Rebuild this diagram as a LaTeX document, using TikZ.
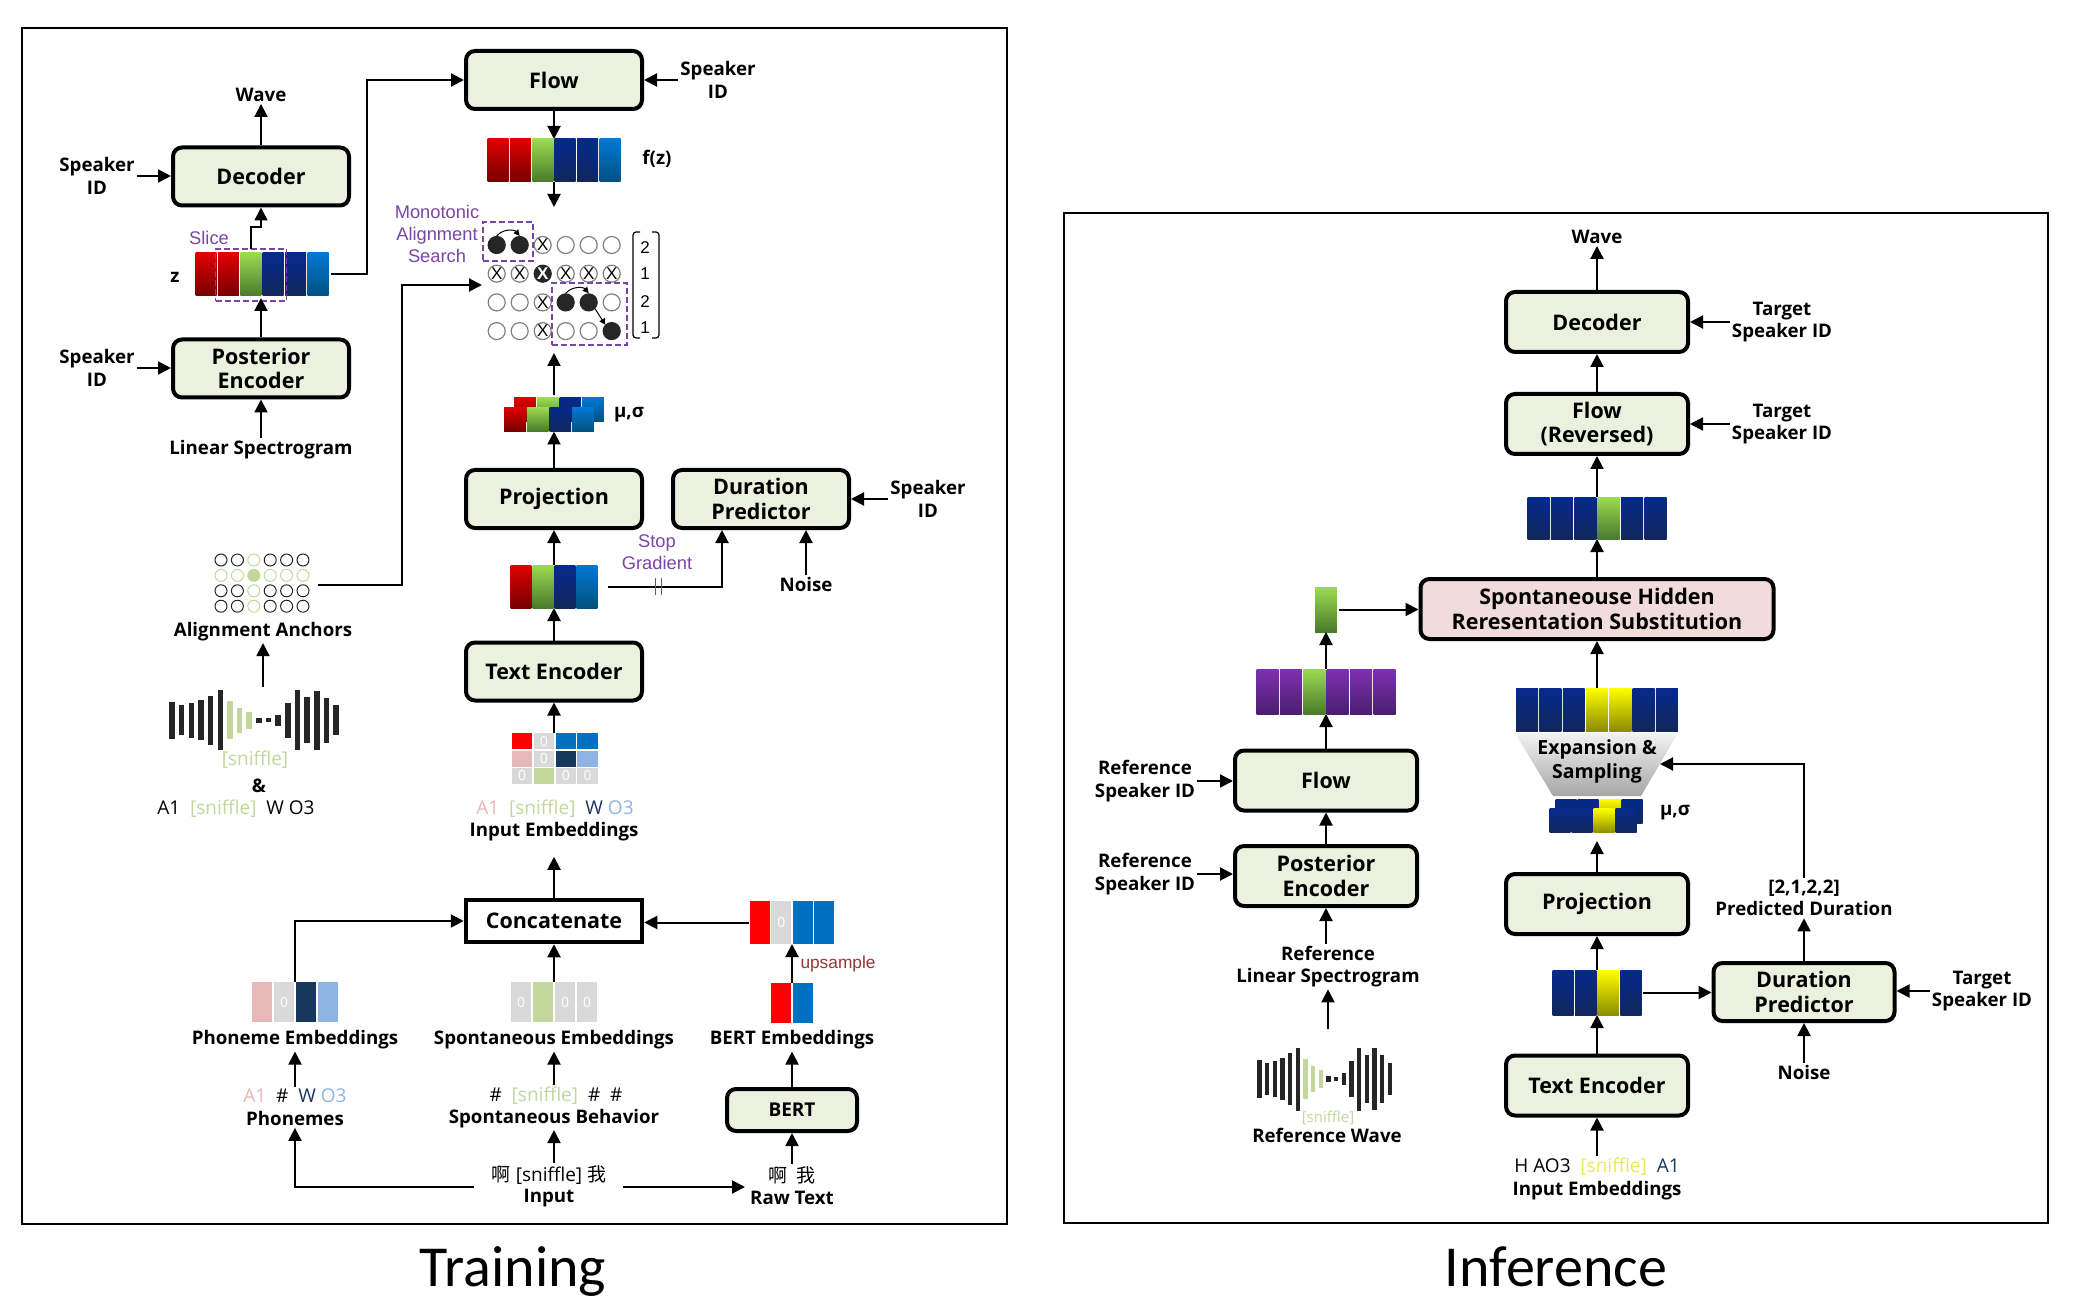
\documentclass[tikz,border=0pt]{standalone}
\usepackage{fontspec}
\setmainfont{Open Sans}
\newfontfamily\lblfont{Liberation Sans}
\newfontfamily\titlefont{Carlito}
\newfontfamily\cjk{Noto Sans CJK SC}
\usetikzlibrary{arrows.meta,positioning}
\definecolor{rdT}{HTML}{E00000}\definecolor{rdB}{HTML}{760000}
\definecolor{gnT}{HTML}{9BDB50}\definecolor{gnB}{HTML}{4A7A2C}
\definecolor{nvT}{HTML}{062A8C}\definecolor{nvB}{HTML}{12275C}
\definecolor{blT}{HTML}{0078D4}\definecolor{blB}{HTML}{03507F}
\definecolor{puT}{HTML}{7F30B0}\definecolor{puB}{HTML}{4A1E70}
\definecolor{ylT}{HTML}{FFFF00}\definecolor{ylB}{HTML}{8C8C00}
\definecolor{fred}{HTML}{FF0000}
\definecolor{fgray}{HTML}{D9D9D9}
\definecolor{fblue}{HTML}{0070C0}
\definecolor{fpink}{HTML}{E6B8B7}
\definecolor{fnavy}{HTML}{17375E}
\definecolor{fsky}{HTML}{8DB4E2}
\definecolor{snf}{HTML}{C3D69B}
\definecolor{sny}{HTML}{E8E85A}
\definecolor{boxc}{HTML}{EBF1DE}
\definecolor{subc}{HTML}{F2DCDB}
\definecolor{purp}{HTML}{7B45A8}
\definecolor{upc}{HTML}{953735}
\definecolor{ink}{HTML}{262626}
% gradient bars: [pitch]{name}{x}{y}{n}{height}{colours}
\newcommand{\barstrip}[7][22.4]{
  \node[strip, minimum width={#5*#1}, minimum height=#6] (#2) at (#3,#4) {};
  \foreach \c [count=\i] in {#7}
    \node[bar, top color=\c T, bottom color=\c B, minimum width=#1-1.4, minimum height=#6,
      xshift={(\i-0.5)*#1}] (#2\i) at (#2.west) {};
}
% flat bars with a digit: [pitch]{name}{x}{y}{n}{height}{colour/text}
\newcommand{\flatstrip}[7][22]{
  \node[strip, minimum width={#5*#1}, minimum height=#6] (#2) at (#3,#4) {};
  \foreach \c/\t [count=\i] in {#7}
    \node[flatbar, fill=\c, minimum width=#1-1.4, minimum height=#6,
      xshift={(\i-0.5)*#1}] (#2\i) at (#2.west) {\t};
}
% staggered double row: {name}{x}{y}{x offset}{pitch}{colours}
\newcommand{\muband}[6]{
  \node[strip, minimum width=96, minimum height=34] (#1) at (#2,#3) {};
  \foreach \c [count=\i] in {#6} {
    \node[bar, top color=\c T, bottom color=\c B, minimum width=#5-1, minimum height=24,
      xshift={(\i-2.5)*#5+#4}, yshift=4.8] at (#1) {};
    \node[bar, top color=\c T, bottom color=\c B, minimum width=#5-1, minimum height=24,
      xshift={(\i-2.5)*#5-#4}, yshift=-4.8] at (#1) {};
  }
}
% sound wave: {name}{x of first bar}{y}{pitch}{bar width}{scale}
\newcommand{\soundbars}[6]{
  \node[strip, minimum width={17*#4+#5}, minimum height=60*#6, anchor=west] (#1) at (#2-#5/2,#3) {};
  \foreach \h/\c [count=\i] in {37/ink,30/ink,35/ink,40/ink,49/ink,60/ink,38/snf,25/snf,17/snf,
      5/ink,3.5/ink,11/ink,35/ink,60/ink,46/ink,59/ink,45/ink,30/ink}
    \fill[\c] ({#2+(\i-1)*#4-#5/2},{#3-#6*\h/2}) rectangle ++(#5,#6*\h);
}
\begin{document}
\begin{tikzpicture}[
  x=1pt, y=-1pt,
  stage/.style={draw, line width=4, rounded corners=9, fill=boxc, minimum width=176, minimum height=58,
    align=center, inner sep=0, font=\fontsize{21.5}{24.5}\selectfont\bfseries},
  istage/.style={stage, minimum width=182, minimum height=60},
  plain/.style={stage, fill=white, rounded corners=0, line width=4.5},
  arr/.style={-{Triangle[length=13,width=13]}, line width=2},
  tinyarr/.style={-{Triangle[length=6,width=6]}, line width=1},
  lbl/.style={font=\fontsize{18.7}{22.5}\selectfont\bfseries, align=center, inner sep=2},
  txt/.style={font=\fontsize{19}{22}\selectfont, align=center, inner sep=2},
  note/.style={font=\fontsize{18.3}{22}\lblfont, align=center, text=purp, inner sep=1},
  strip/.style={inner sep=0, outer sep=0},
  bar/.style={inner sep=0, outer sep=0},
  flatbar/.style={inner sep=0, outer sep=0, text=white, font=\fontsize{14}{14}\selectfont},
  dashbox/.style={draw=purp, dash pattern=on 6 off 3, line width=1.8, inner sep=0, outer sep=0},
  cello/.style={circle, draw=gray, line width=1.2, minimum size=17, inner sep=0},
  cellf/.style={cello, fill=ink, draw=ink},
  cellx/.style={cello, label={[inner sep=0, font=\fontsize{17}{17}\lblfont]center:X}},
  cellk/.style={cellf, label={[inner sep=0, text=white, font=\fontsize{17}{17}\lblfont\bfseries]center:X}},
  anco/.style={circle, draw=ink, line width=1, minimum size=12, inner sep=0},
  ancg/.style={anco, draw=snf},
  ancf/.style={ancg, fill=snf}
]
  \useasboundingbox (0,0) rectangle (2073,1313);
  \draw[line width=2] (22,28) rectangle (1007,1224);
  \draw[line width=2] (1064,213) rectangle (2048,1223);
  \node[font=\fontsize{58}{60}\titlefont, anchor=base] (train) at (513,1286) {Training};
  \node[font=\fontsize{58}{60}\titlefont, anchor=base] (infer) at (1556,1286) {Inference};

  % training, left column
  \node[stage] (dec) at (261,176.5) {Decoder};
  \node[stage] (post) at (261,368.5) {Posterior\\Encoder};
  \node[lbl] (wav) at (261,95) {Wave};
  \node[lbl] (spk1) at (97,176) {Speaker\\ID};
  \node[lbl] (spk2) at (97,368) {Speaker\\ID};
  \node[lbl] (lin) at (261,449.5) {Linear Spectrogram};
  \barstrip{zs}{262}{274.5}{6}{43}{rd,rd,gn,nv,nv,bl}
  \node[dashbox, minimum width=71, minimum height=52] (slice) at (251,275) {};
  \node[lbl] (ztxt) at (175,277) {z};
  \node[note] (slicetxt) at (209,238) {Slice};
  \draw[arr] (dec.north) -- (wav.south);
  \draw[arr] (spk1.east) -- (spk1.east -| dec.west);
  \draw[arr] (spk2.east) -- (spk2.east -| post.west);
  \draw[arr] (lin.north) -- (post.south);
  \draw[arr] (post.north) -- ([yshift=3]post.north |- slice.south);
  \draw[arr, line width=1.6] (slice.north) -- ++(0,-22) -| (dec.south);

  % training, flow and search
  \node[stage] (flow) at (554,80) {Flow};
  \node[lbl] (spk3) at (718,80) {Speaker\\ID};
  \barstrip{fz}{554}{160.5}{6}{43}{rd,rd,gn,nv,nv,bl}
  \node[lbl] (fztxt) at (657,159) {f(z)};
  \node[strip, minimum width=144, minimum height=136] (search) at (554,285) {};
  \foreach \row [count=\r] in {{cellf,cellf,cellx,cello,cello,cello},{cellx,cellx,cellk,cellx,cellx,cellx},
      {cello,cello,cellx,cellf,cellf,cello},{cello,cello,cellx,cello,cello,cellf}}
    \foreach \kind [count=\k] in \row
      \node[\kind] (al\r\k) at ({496.7+23*(\k-1)},{245+28.7*(\r-1)}) {};
  \node[dashbox, minimum width=50, minimum height=39] (mas1) at (508,241.5) {};
  \node[dashbox, minimum width=75, minimum height=62] (mas2) at (589.5,314) {};
  \draw[tinyarr] (al11.north) to[bend left=50] (al12.north);
  \draw[tinyarr] (al34.north) to[bend left=50] (al35.north);
  \draw[tinyarr] (al35.south east) -- (al46.north west);
  \node[note] (mastxt) at (437,234) {Monotonic\\Alignment\\Search};
  \node[strip, minimum width=26, minimum height=106] (durs) at (646,285) {};
  \draw[line width=1.2, rounded corners=3] ([xshift=7]durs.north west) -- (durs.north west) -- (durs.south west) -- ++(7,0);
  \draw[line width=1.2, rounded corners=3] ([xshift=-7]durs.north east) -- (durs.north east) -- (durs.south east) -- ++(-7,0);
  \foreach \d/\yy in {2/248,1/274,2/302,1/328}
    \node[font=\fontsize{17}{17}\lblfont] (dig\yy) at (645,\yy) {\d};
  \draw[arr] (zs.east) ++(2,0) -- ++(36,0) |- (flow.west);
  \draw[arr] (spk3.west) -- (flow.east);
  \draw[arr] (flow.south) -- (fz.north);
  \draw[arr, shorten >=10] (fz.south) -- (search.north);
  \muband{mus}{554}{414.5}{5}{22.7}{rd,gn,nv,bl}
  \node[lbl] (mustxt) at (629,415) {μ,σ};
  \draw[arr, shorten <=2] (mus.north) -- (search.south);

  % training, projection and duration
  \node[stage] (proj) at (554,499) {Projection};
  \node[stage] (dur) at (761,499) {Duration\\Predictor};
  \node[lbl] (spk4) at (928,499) {Speaker\\ID};
  \node[lbl] (nois) at (806,584) {Noise};
  \barstrip[22]{tes}{554}{586.5}{4}{43}{rd,gn,nv,bl}
  \node[note] (stoptxt) at (657,552) {Stop\\Gradient};
  \node[stage] (tenc) at (554,671.5) {Text Encoder};
  \draw[arr] (proj.north) -- (mus.south);
  \draw[arr] (tes.north) -- (tes.north |- proj.south);
  \draw[arr] (tenc.north) -- (tenc.north |- tes.south);
  \draw[arr] (tes.east) ++(10,0) -| ([xshift=-39]dur.south);
  \draw[purp, line width=1] (655,578) -- (655,595);
  \draw[purp, line width=1] (661,578) -- (661,595);
  \draw[arr] (nois.north) -- (nois.north |- dur.south);
  \draw[arr] (spk4.west) -- (dur.east);

  % training, anchors
  \foreach \row [count=\r] in {{anco,anco,ancg,anco,anco,anco},{ancg,ancg,ancf,ancg,ancg,ancg},
      {anco,anco,ancg,anco,anco,anco},{anco,anco,ancg,anco,anco,anco}}
    \foreach \kind [count=\k] in \row
      \node[\kind] (an\r\k) at ({221+16.4*(\k-1)},{560+15.4*(\r-1)}) {};
  \node[strip, minimum width=96, minimum height=60] (ancs) at (262,583) {};
  \node[lbl] (anctxt) at (263,631.5) {Alignment Anchors};
  \draw[arr] (ancs.east) ++(8,2) -| (402,285) -- (search.west);
  \soundbars{swav}{172}{720}{9.65}{5.5}{1}
  \node[txt, text=snf] (sniff1) at (255,760) {[sniffle]};
  \node[lbl] (amp) at (259,786) {\&};
  \node[txt] (seq1) at (236,809) {A1~~\textcolor{snf}{[sniffle]}~~W O3};
  \draw[arr, shorten <=3] (swav.north -| anctxt.south) -- (anctxt.south);

  % training, embeddings
  \node[strip, minimum width=88, minimum height=50] (ine) at (554,758) {};
  \foreach \c/\t [count=\i] in {fred/,fgray/0,fblue/,fblue/}
    \node[flatbar, fill=\c, minimum width=20.6, minimum height=16] (ina\i) at ({522+21.9*(\i-1)},741) {\t};
  \foreach \c/\t [count=\i] in {fpink/,fgray/0,fnavy/,fsky/}
    \node[flatbar, fill=\c, minimum width=20.6, minimum height=16] (inb\i) at ({522+21.9*(\i-1)},758.5) {\t};
  \foreach \c/\t [count=\i] in {fgray/0,snf/,fgray/0,fgray/0}
    \node[flatbar, fill=\c, minimum width=20.6, minimum height=16] (inc\i) at ({522+21.9*(\i-1)},775.5) {\t};
  \node[txt] (inseq) at (555,809) {\textcolor{fpink}{A1}~~\textcolor{snf}{[sniffle]}~~\textcolor{fnavy}{W}~\textcolor{fsky}{O3}};
  \node[lbl] (intxt) at (554,831.5) {Input Embeddings};
  \draw[arr] (ine.north) -- (ine.north |- tenc.south);

  \node[plain, minimum height=42] (conc) at (554,921) {Concatenate};
  \draw[arr] (conc.north) -- ++(0,-41);
  \flatstrip{phe}{295}{1002}{4}{40}{fpink/,fgray/0,fnavy/,fsky/}
  \flatstrip{spe}{554}{1002}{4}{40}{fgray/0,snf/,fgray/0,fgray/0}
  \flatstrip[21.5]{bup}{792}{922.5}{4}{43}{fred/,fgray/0,fblue/,fblue/}
  \flatstrip{bem}{792}{1003}{2}{40}{fred/,fblue/}
  \draw[arr] (phe.north) |- (conc.west);
  \draw[arr] (spe.north) -- (spe.north |- conc.south);
  \draw[arr] (bup.west) -- (bup.west -| conc.east);
  \draw[arr] (bem.north) -- (bup.south);
  \node[font=\fontsize{17.3}{18}\lblfont, text=upc] (upstxt) at (838,964) {upsample};
  \node[lbl] (phetxt) at (295,1040) {Phoneme Embeddings};
  \node[lbl] (spetxt) at (554,1040) {Spontaneous Embeddings};
  \node[lbl] (bemtxt) at (792,1040) {BERT Embeddings};
  \node[txt] (phseq) at (295,1096) {\textcolor{fpink}{A1}~~\#~~\textcolor{fnavy}{W}~\textcolor{fsky}{O3}};
  \node[lbl] (phtxt) at (295,1118.5) {Phonemes};
  \node[txt] (spseq) at (556,1096) {\#~~\textcolor{snf}{[sniffle]}~~\#~~\#};
  \node[lbl] (sptxt) at (554,1118.5) {Spontaneous Behavior};
  \node[stage, minimum width=130, minimum height=42, font=\fontsize{19}{22}\selectfont\bfseries] (bert) at (792,1110) {BERT};
  \node[txt] (inpseq) at (549,1175) {{\cjk 啊} [sniffle] {\cjk 我}};
  \node[lbl] (inptxt) at (549,1198) {Input};
  \node[txt] (rawseq) at (792,1175) {{\cjk 啊}~~{\cjk 我}};
  \node[lbl] (rawtxt) at (792,1198) {Raw Text};
  \coordinate (inl) at (474,1187);
  \coordinate (inr) at (623,1187);
  \coordinate (inrt) at (745,1187);
  \draw[arr] (phseq.north) -- (phetxt.south);
  \draw[arr] (spseq.north -| spetxt.south) -- (spetxt.south);
  \draw[arr] (bert.north) -- (bemtxt.south);
  \draw[arr] (inl) -| (phtxt.south);
  \draw[arr] (inr) -- (inrt);
  \draw[arr] (inpseq.north -| sptxt.south) -- (sptxt.south);
  \draw[arr] (rawseq.north) -- (bert.south);

  % inference, middle column
  \node[istage] (idec) at (1597,322) {Decoder};
  \node[istage] (iflow) at (1597,424) {Flow\\(Reversed)};
  \node[lbl] (iwav) at (1597,237) {Wave};
  \node[lbl] (tgt1) at (1782,322) {Target\\Speaker ID};
  \node[lbl] (tgt2) at (1782,424) {Target\\Speaker ID};
  \barstrip[23.4]{ilat}{1597}{518}{6}{42}{nv,nv,nv,gn,nv,nv}
  \node[stage, fill=subc, minimum width=353, minimum height=60] (subst) at (1597,609) {Spontaneouse Hidden\\Reresentation Substitution};
  \barstrip[23.3]{iexp}{1597}{709.5}{7}{43}{nv,nv,nv,yl,yl,nv,nv}
  \shade[top color=gray!10, bottom color=gray!70] (1515,733) -- (1678,733) -- (1641,796) -- (1553,796) -- cycle;
  \node[align=center, inner sep=0, font=\fontsize{19.5}{24}\selectfont\bfseries] (expd) at (1597,761) {Expansion \&\\Sampling};
  \coordinate (expdr) at (1660,764);
  \muband{imus}{1596}{816}{3}{22}{nv,nv,yl,nv}
  \node[lbl] (imustxt) at (1675,813) {μ,σ};
  \node[istage] (iproj) at (1597,904) {Projection};
  \barstrip[22.6]{ites}{1597}{992.5}{4}{45}{nv,nv,yl,nv}
  \node[istage] (itenc) at (1597,1085.5) {Text Encoder};
  \node[txt] (iseq) at (1597,1167) {H AO3~~\textcolor{sny}{[sniffle]}~~\textcolor{fnavy}{A1}};
  \node[lbl] (iintxt) at (1597,1190.5) {Input Embeddings};
  \draw[arr] (idec.north) -- (iwav.south);
  \draw[arr] (iflow.north) -- (idec.south);
  \draw[arr] (ilat.north) -- (iflow.south);
  \draw[arr] (subst.north) -- (ilat.south);
  \draw[arr] (iexp.north) -- (subst.south);
  \draw[arr, shorten >=8] (iproj.north) -- (imus.south -| iproj.north);
  \draw[arr] (ites.north) -- (iproj.south);
  \draw[arr] (itenc.north) -- (ites.south);
  \draw[arr] (iseq.north) -- (itenc.south);
  \draw[arr] (tgt1.west) -- (tgt1.west -| idec.east);
  \draw[arr] (tgt2.west) -- (tgt2.west -| iflow.east);

  % inference, left column
  \node[istage] (rflow) at (1326,780.5) {Flow};
  \node[istage] (rpost) at (1326,876) {Posterior\\Encoder};
  \barstrip[23.4]{rlat}{1326}{691.5}{6}{45}{pu,pu,gn,pu,pu,pu}
  \barstrip[23]{rgn}{1326}{609.5}{1}{45}{gn}
  \node[lbl] (rspk1) at (1145,781) {Reference\\Speaker ID};
  \node[lbl] (rspk2) at (1145,874) {Reference\\Speaker ID};
  \node[lbl] (rlin) at (1328,966.5) {Reference\\Linear Spectrogram};
  \soundbars{rwav}{1259.5}{1079}{7.67}{4.5}{1.05}
  \node[txt, text=snf, font=\fontsize{15}{18}\selectfont] (sniff2) at (1328,1118) {[sniffle]};
  \node[lbl] (rwtxt) at (1327,1135) {Reference Wave};
  \draw[arr] (rlat.north) -- (rgn.south);
  \draw[arr] (rflow.north) -- (rlat.south);
  \draw[arr] (rpost.north) -- (rflow.south);
  \draw[arr] (rlin.north -| rpost.south) -- (rpost.south);
  \draw[arr, shorten <=19] (rwav.north -| rlin.south) -- (rlin.south);
  \draw[arr] (rspk1.east) -- (rspk1.east -| rflow.west);
  \draw[arr] (rspk2.east) -- (rspk2.east -| rpost.west);
  \draw[arr] (rgn.east) ++(1,0) -- (rgn.east -| subst.west);

  % inference, right column
  \node[stage, minimum width=181, minimum height=58] (idur) at (1804,992) {Duration\\Predictor};
  \node[lbl] (tgt3) at (1982,991) {Target\\Speaker ID};
  \node[lbl] (inois) at (1804,1072) {Noise};
  \node[lbl] (pred) at (1804,898) {[2,1,2,2]\\Predicted Duration};
  \draw[arr] (ites.east) ++(1,0) -- (ites.east -| idur.west);
  \draw[arr] (tgt3.west) -- (tgt3.west -| idur.east);
  \draw[arr] (inois.north) -- (idur.south);
  \draw[arr] (idur.north) -- (pred.south);
  \draw[arr] (pred.north) |- (expdr);
\end{tikzpicture}
\end{document}
